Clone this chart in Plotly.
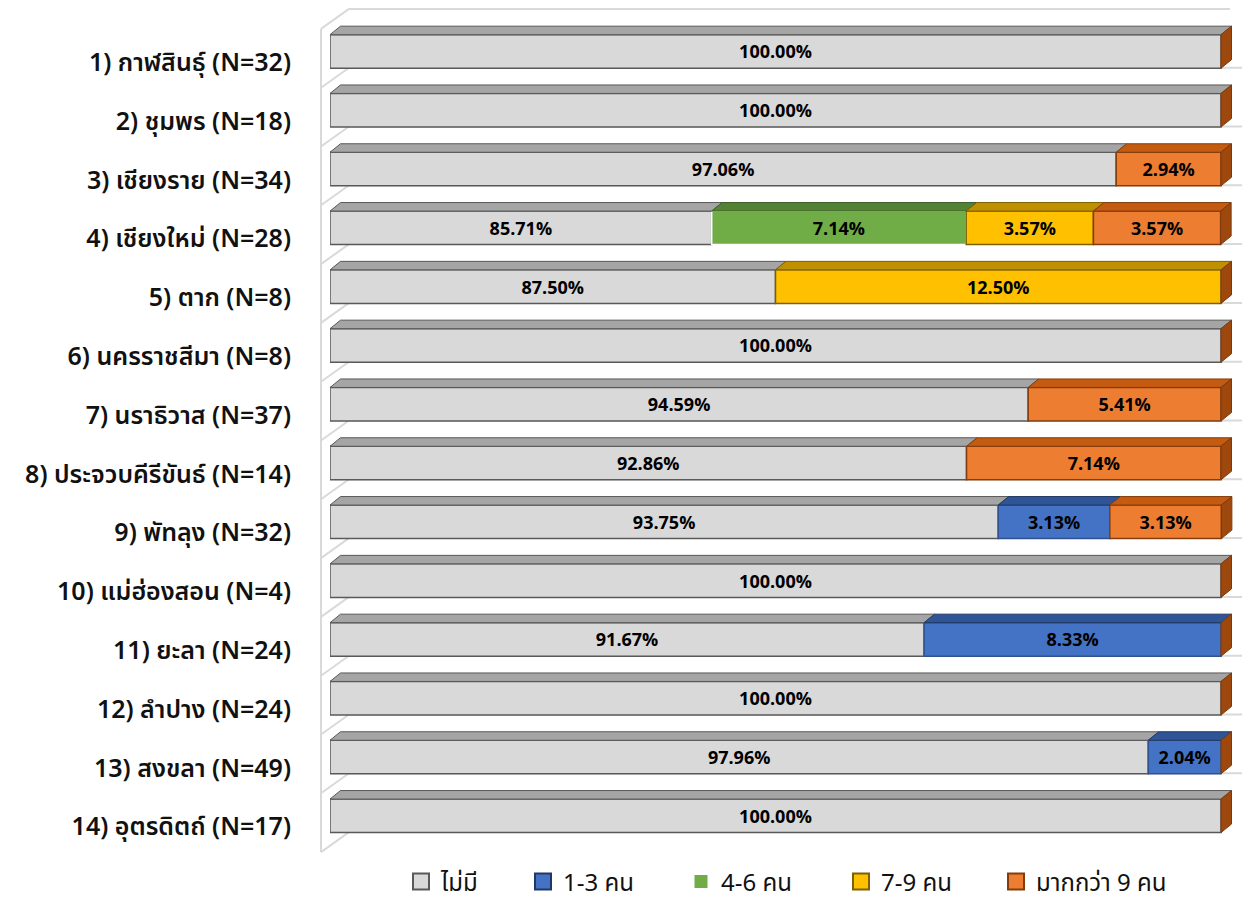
import plotly.graph_objects as go

# ---------------- data ----------------
categories = [
    "1) กาฬสินธุ์ (N=32)", "2) ชุมพร (N=18)", "3) เชียงราย (N=34)",
    "4) เชียงใหม่ (N=28)", "5) ตาก (N=8)", "6) นครราชสีมา (N=8)",
    "7) นราธิวาส (N=37)", "8) ประจวบคีรีขันธ์ (N=14)", "9) พัทลุง (N=32)",
    "10) แม่ฮ่องสอน (N=4)", "11) ยะลา (N=24)", "12) ลำปาง (N=24)",
    "13) สงขลา (N=49)", "14) อุตรดิตถ์ (N=17)",
]
series_names = ["ไม่มี", "1-3 คน", "4-6 คน", "7-9 คน", "มากกว่า 9 คน"]
none_vals = [100, 100, 97.06, 85.71, 87.50, 100, 94.59, 92.86, 93.75, 100, 91.67, 100, 97.96, 100]
v_1_3 = [0, 0, 0, 0, 0, 0, 0, 0, 3.13, 0, 8.33, 0, 2.04, 0]
v_4_6 = [0, 0, 0, 7.14, 0, 0, 0, 0, 0, 0, 0, 0, 0, 0]
v_7_9 = [0, 0, 0, 3.57, 12.50, 0, 0, 0, 0, 0, 0, 0, 0, 0]
v_9p = [0, 0, 2.94, 3.57, 0, 0, 5.41, 7.14, 3.13, 0, 0, 0, 0, 0]
series_vals = [none_vals, v_1_3, v_4_6, v_7_9, v_9p]

# ---------------- styles ----------------
front_colors = ["#D9D9D9", "#4472C4", "#70AD47", "#FFC000", "#ED7D31"]
line_colors = ["#595959", "#2F528F", "#FFFFFF", "#7F6000", "#843C0C"]
legend_line_colors = ["#595959", "#203864", "#70AD47", "#7F6000", "#843C0C"]
top_colors = ["#A5A5A5", "#2F5597", "#548235", "#BF9000", "#C55A11"]
top_line_colors = ["#595959", "#203864", "#3B5E25", "#7F6000", "#843C0C"]
side_color = "#9E480E"
wall_color = "#D9D9D9"
label_font = "Tahoma, 'Noto Sans Thai', 'Noto Sans', 'DejaVu Sans', sans-serif"
value_font = "'Open Sans', 'Liberation Sans', Arial, sans-serif"

W, H = 1242, 904
L = 330                      # plot area left edge (px)
AXIS_MIN = 75.0              # value axis minimum (as in the original chart)
PX_PER_PCT = (1221 - 330) / 25.0
X_MAX = AXIS_MIN + (W - L) / PX_PER_PCT
PX_PER_CAT = 58.8
TICK0 = 62.3
Y_TOP = -TICK0 / PX_PER_CAT
Y_BOT = Y_TOP + H / PX_PER_CAT

BAR_W = 0.57
BAR_OFF = -0.47
DX = 10.5 / PX_PER_PCT
DY = 8.5 / PX_PER_CAT

# legend icon centres (px) as in the original
legend_icon_px = [420, 542, 700, 860, 1015]
LEGEND_Y_PX = 882

n = len(categories)
ypos = list(range(n))

fig = go.Figure()

# compute visible starts/ends
cum = [0.0] * n
starts, ends = [], []
for vals in series_vals:
    s, e = [], []
    for i, v in enumerate(vals):
        st = cum[i]
        en = cum[i] + v
        s.append(max(st, AXIS_MIN))
        e.append(en)
        cum[i] = en
    starts.append(s)
    ends.append(e)

# front faces
for k, (name, vals) in enumerate(zip(series_names, series_vals)):
    xs, bases, texts = [], [], []
    for i, v in enumerate(vals):
        if v > 0 and ends[k][i] > AXIS_MIN:
            xs.append(ends[k][i] - starts[k][i])
            bases.append(starts[k][i])
            texts.append(f"{v:.2f}%")
        else:
            xs.append(None)
            bases.append(None)
            texts.append("")
    fig.add_trace(go.Bar(
        y=ypos, x=xs, base=bases, orientation="h", name=name,
        width=BAR_W, offset=BAR_OFF,
        marker=dict(color=front_colors[k],
                    line=dict(color=line_colors[k], width=1.5)),
        text=texts, texttemplate="%{text}", textposition="inside",
        insidetextanchor="middle", textangle=0, constraintext="none",
        insidetextfont=dict(family=value_font, size=18, color="black", weight="bold"),
        hoverinfo="skip", showlegend=False,
    ))

# top faces
for k, vals in enumerate(series_vals):
    px, py = [], []
    for i, v in enumerate(vals):
        if v > 0 and ends[k][i] > AXIS_MIN:
            x0, x1 = starts[k][i], ends[k][i]
            yb = i + BAR_OFF
            yt = yb - DY
            px += [x0, x1, x1 + DX, x0 + DX, x0, None]
            py += [yb, yb, yt, yt, yb, None]
    if px:
        fig.add_trace(go.Scatter(
            x=px, y=py, mode="lines", fill="toself",
            fillcolor=top_colors[k],
            line=dict(color=top_line_colors[k], width=1),
            hoverinfo="skip", showlegend=False,
        ))

# right side faces (end of each bar)
px, py = [], []
for i in range(n):
    xe = cum[i]
    yb = i + BAR_OFF
    ybot = yb + BAR_W
    px += [xe, xe + DX, xe + DX, xe, xe, None]
    py += [yb, yb - DY, ybot - DY, ybot, yb, None]
fig.add_trace(go.Scatter(
    x=px, y=py, mode="lines", fill="toself", fillcolor=side_color,
    line=dict(color="#7A3A0E", width=1), hoverinfo="skip", showlegend=False,
))

def xp(pix):
    return (pix - L) / (W - L)

# legend entries, one small legend per series so spacing matches the original
legend_layouts = {}
for k, name in enumerate(series_names):
    lname = "legend" if k == 0 else f"legend{k + 1}"
    fig.add_trace(go.Scatter(
        x=[None], y=[None], mode="markers", name=name, legend=lname,
        marker=dict(symbol="square", size=16 if k != 2 else 13, color=front_colors[k],
                    line=dict(color=legend_line_colors[k], width=2 if k != 2 else 0)),
        hoverinfo="skip", showlegend=True,
    ))
    legend_layouts[lname] = dict(
        orientation="h", x=xp(legend_icon_px[k] - 19), xanchor="left",
        y=1 - LEGEND_Y_PX / H, yanchor="middle",
        font=dict(family=label_font, size=24, color="#111111"),
        itemclick=False, bgcolor="rgba(0,0,0,0)",
    )

# walls (3D frame decoration)
shapes = []
wall_x0, wall_x1 = xp(321), xp(349)
bnd_dy = 20 / PX_PER_CAT
bottom_b = n - 0.5 - 4 / PX_PER_CAT
top_b = -0.5 - 4 / PX_PER_CAT
shapes.append(dict(type="line", xref="paper", yref="y", x0=wall_x0, x1=wall_x0,
                   y0=top_b, y1=bottom_b, line=dict(color=wall_color, width=2), layer="below"))
for k in range(n + 1):
    b = k - 0.5 - 4 / PX_PER_CAT
    shapes.append(dict(type="line", xref="paper", yref="y", x0=wall_x0, x1=wall_x1,
                       y0=b, y1=b - bnd_dy, line=dict(color=wall_color, width=2), layer="below"))
    xend = xp(1230) if k == 0 else 1.0
    if k < n:
        shapes.append(dict(type="line", xref="paper", yref="y", x0=wall_x1, x1=xend,
                           y0=b - bnd_dy, y1=b - bnd_dy,
                           line=dict(color=wall_color, width=2), layer="below"))

fig.update_layout(
    width=W, height=H,
    margin=dict(l=L, r=0, t=0, b=0, autoexpand=False),
    paper_bgcolor="white", plot_bgcolor="rgba(0,0,0,0)",
    barmode="overlay",
    shapes=shapes,
    xaxis=dict(range=[AXIS_MIN, X_MAX], visible=False, fixedrange=True, automargin=False),
    yaxis=dict(range=[Y_BOT, Y_TOP], tickmode="array", tickvals=ypos, ticktext=categories,
               showgrid=False, zeroline=False, showline=False, ticks="",
               automargin=False, ticklabelstandoff=38, fixedrange=True,
               tickfont=dict(family=label_font, size=25, color="#111111", weight=600)),
    showlegend=True,
    **legend_layouts,
)

fig.write_html("out.html", config={"displayModeBar": False},
               post_script="document.body.style.margin='0';")
